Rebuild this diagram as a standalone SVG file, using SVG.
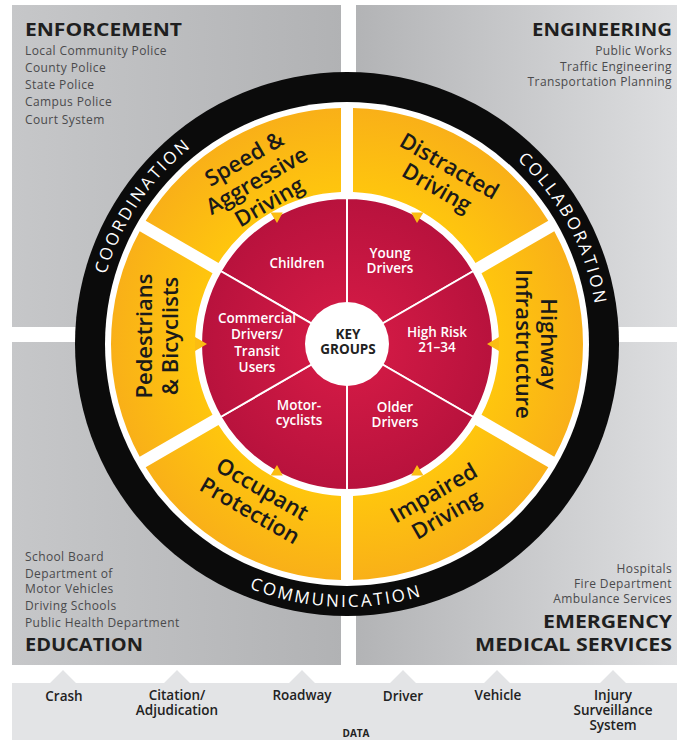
<svg xmlns="http://www.w3.org/2000/svg" width="677" height="740" viewBox="0 0 677 740">
<defs>
<linearGradient id="panelG" gradientUnits="userSpaceOnUse" x1="12" y1="0" x2="677" y2="0">
<stop offset="0" stop-color="#c6c7c9"/><stop offset="0.5" stop-color="#b1b2b4"/><stop offset="1" stop-color="#dddee0"/>
</linearGradient>
<radialGradient id="yelG" gradientUnits="userSpaceOnUse" cx="347" cy="344" r="236">
<stop offset="0.62" stop-color="#ffc70d"/><stop offset="1" stop-color="#f9b018"/>
</radialGradient>
<radialGradient id="redG" gradientUnits="userSpaceOnUse" cx="347" cy="344" r="146">
<stop offset="0.3" stop-color="#cf1944"/><stop offset="1" stop-color="#b8123d"/>
</radialGradient>
<path id="arcCoord" d="M121.4 454 A251 251 0 0 1 364.5 93.6"/>
<path id="arcColl" d="M355.8 93.2 A251 251 0 0 1 559.9 477"/>
<path id="arcComm" d="M113.7 465.4 A263 263 0 0 0 568.8 485.3"/>
</defs>
<style>
.hd{font-family:"Open Sans","Liberation Sans",sans-serif;font-weight:700;font-size:18px;fill:#1f1f20}
.sm{font-family:"Open Sans","Liberation Sans",sans-serif;font-size:12px;fill:#4a4a4c;letter-spacing:0.4px}
.rt{font-family:"Open Sans","Liberation Sans",sans-serif;font-size:17px;fill:#ffffff;letter-spacing:2.4px}
.yl{font-family:"Open Sans","Liberation Sans",sans-serif;font-weight:600;font-size:22px;fill:#1a1a1a;text-anchor:middle}
.rl{font-family:"Open Sans","Liberation Sans",sans-serif;font-weight:600;font-size:13.5px;fill:#ffffff;text-anchor:middle}
.kg{font-family:"Open Sans","Liberation Sans",sans-serif;font-weight:700;font-size:13.5px;fill:#222222;text-anchor:middle}
.dl{font-family:"Open Sans","Liberation Sans",sans-serif;font-weight:600;font-size:13.5px;fill:#222222;text-anchor:middle}
.seg{fill:url(#yelG)}
.wed{fill:url(#redG);stroke:#ffffff;stroke-width:2}
.tab{fill:#fbbd12}
.tri{fill:#e3e4e6}
</style>
<rect width="677" height="740" fill="#ffffff"/>

<g id="enforcement">
<rect x="12" y="5" width="329" height="322" fill="url(#panelG)"/>
<text class="hd" x="25" y="36" textLength="157" lengthAdjust="spacingAndGlyphs">ENFORCEMENT</text>
<text class="sm" x="25" y="55">Local Community Police<tspan x="25" dy="17">County Police</tspan><tspan x="25" dy="17">State Police</tspan><tspan x="25" dy="17">Campus Police</tspan><tspan x="25" dy="18">Court System</tspan></text>
</g>
<g id="engineering">
<rect x="356" y="5" width="321" height="322" fill="url(#panelG)"/>
<text class="hd" x="532" y="36" textLength="140" lengthAdjust="spacingAndGlyphs">ENGINEERING</text>
<text class="sm" x="672" y="55" text-anchor="end">Public Works<tspan x="672" dy="16">Traffic Engineering</tspan><tspan x="672" dy="15">Transportation Planning</tspan></text>
</g>
<g id="education">
<rect x="12" y="342" width="329" height="323" fill="url(#panelG)"/>
<text class="sm" x="25" y="561">School Board<tspan x="25" dy="17">Department of</tspan><tspan x="25" dy="15">Motor Vehicles</tspan><tspan x="25" dy="17">Driving Schools</tspan><tspan x="25" dy="17">Public Health Department</tspan></text>
<text class="hd" x="25" y="651" textLength="118" lengthAdjust="spacingAndGlyphs">EDUCATION</text>
</g>
<g id="ems">
<rect x="356" y="342" width="321" height="323" fill="url(#panelG)"/>
<text class="sm" x="672" y="573" text-anchor="end">Hospitals<tspan x="672" dy="15">Fire Department</tspan><tspan x="672" dy="15">Ambulance Services</tspan></text>
<text class="hd" x="543" y="628" textLength="129" lengthAdjust="spacingAndGlyphs">EMERGENCY</text>
<text class="hd" x="475" y="651" textLength="197" lengthAdjust="spacingAndGlyphs">MEDICAL SERVICES</text>
</g>

<g id="data">
<rect x="12" y="683" width="665" height="57" fill="#e3e4e6"/>
<path class="tri" d="M50 683 L63 670 L76 683 Z M164 683 L177 670 L190 683 Z M289 683 L302 670 L315 683 Z M390 683 L403 670 L416 683 Z M484 683 L497 670 L510 683 Z M600 683 L613 670 L626 683 Z"/>
<text class="dl" x="64" y="701">Crash</text>
<text class="dl" x="177" y="700">Citation/<tspan x="177" dy="15">Adjudication</tspan></text>
<text class="dl" x="302" y="700">Roadway</text>
<text class="dl" x="403" y="701">Driver</text>
<text class="dl" x="498" y="700">Vehicle</text>
<text class="dl" x="613" y="700">Injury<tspan x="613" dy="15">Surveillance</tspan><tspan x="613" dy="15">System</tspan></text>
<text class="dl" x="356" y="737" style="font-size:10px;font-weight:700">DATA</text>
</g>

<g id="ring">
<circle cx="347" cy="344" r="272" fill="#0b0b0b"/>
<circle cx="347" cy="344" r="242" fill="#ffffff"/>
<text class="rt"><textPath href="#arcCoord" startOffset="50%" text-anchor="middle">COORDINATION</textPath></text>
<text class="rt"><textPath href="#arcColl" startOffset="50%" text-anchor="middle">COLLABORATION</textPath></text>
<text class="rt"><textPath href="#arcComm" startOffset="50%" text-anchor="middle">COMMUNICATION</textPath></text>
</g>

<g id="seg-speed">
<path class="seg" d="M145.7 220.8 A236 236 0 0 1 341 108.1 L341 192.1 A152 152 0 0 0 218.5 262.9 Z"/>
<g transform="translate(257 181) rotate(-30)"><text class="yl" y="-18">Speed &amp;<tspan x="0" dy="25">Aggressive</tspan><tspan x="0" dy="25">Driving</tspan></text></g>
</g>
<g id="seg-distracted">
<path class="seg" d="M353 108.1 A236 236 0 0 1 548.3 220.8 L475.5 262.9 A152 152 0 0 0 353 192.1 Z"/>
<g transform="translate(443 177) rotate(30)"><text class="yl" y="-5">Distracted<tspan x="0" dy="25">Driving</tspan></text></g>
</g>
<g id="seg-highway">
<path class="seg" d="M554.3 231.2 A236 236 0 0 1 554.3 456.8 L481.5 414.8 A152 152 0 0 0 481.5 273.2 Z"/>
<g transform="translate(536 344) rotate(90)"><text class="yl" y="-5">Highway<tspan x="0" dy="25">Infrastructure</tspan></text></g>
</g>
<g id="seg-impaired">
<path class="seg" d="M548.3 467.2 A236 236 0 0 1 353 579.9 L353 495.9 A152 152 0 0 0 475.5 425.1 Z"/>
<g transform="translate(440 504) rotate(-30)"><text class="yl" y="-5">Impaired<tspan x="0" dy="25">Driving</tspan></text></g>
</g>
<g id="seg-occupant">
<path class="seg" d="M341 579.9 A236 236 0 0 1 145.7 467.2 L218.5 425.1 A152 152 0 0 0 341 495.9 Z"/>
<g transform="translate(256 500) rotate(30)"><text class="yl" y="-5">Occupant<tspan x="0" dy="25">Protection</tspan></text></g>
</g>
<g id="seg-pedestrians">
<path class="seg" d="M139.7 456.8 A236 236 0 0 1 139.7 231.2 L212.5 273.2 A152 152 0 0 0 212.5 414.8 Z"/>
<g transform="translate(158 336) rotate(-90)"><text class="yl" y="-6">Pedestrians<tspan x="0" dy="26">&amp; Bicyclists</tspan></text></g>
</g>

<g id="wedge-children">
<path class="wed" d="M347 344 L220.6 271 A146 146 0 0 1 347 198 Z"/>
<text class="rl" x="297" y="268">Children</text>
</g>
<g id="wedge-young">
<path class="wed" d="M347 344 L347 198 A146 146 0 0 1 473.4 271 Z"/>
<text class="rl" x="390" y="258">Young<tspan x="390" dy="15">Drivers</tspan></text>
</g>
<g id="wedge-highrisk">
<path class="wed" d="M347 344 L473.4 271 A146 146 0 0 1 473.4 417 Z"/>
<text class="rl" x="437" y="337">High Risk<tspan x="437" dy="15">21–34</tspan></text>
</g>
<g id="wedge-older">
<path class="wed" d="M347 344 L473.4 417 A146 146 0 0 1 347 490 Z"/>
<text class="rl" x="395" y="412">Older<tspan x="395" dy="15">Drivers</tspan></text>
</g>
<g id="wedge-moto">
<path class="wed" d="M347 344 L347 490 A146 146 0 0 1 220.6 417 Z"/>
<text class="rl" x="299" y="410">Motor-<tspan x="299" dy="15">cyclists</tspan></text>
</g>
<g id="wedge-commercial">
<path class="wed" d="M347 344 L220.6 417 A146 146 0 0 1 220.6 271 Z"/>
<text class="rl" x="257" y="323">Commercial<tspan x="257" dy="16">Drivers/</tspan><tspan x="257" dy="17">Transit</tspan><tspan x="257" dy="16">Users</tspan></text>
</g>

<g id="connectors">
<path class="tab" d="M270.5 212.4 L282.8 212.4 L277 223 Z"/>
<path class="tab" d="M411.2 212.4 L423.5 212.4 L417 223 Z"/>
<path class="tab" d="M499 337 L499 351 L487 344 Z"/>
<path class="tab" d="M411.2 475.6 L423.5 475.6 L417 465 Z"/>
<path class="tab" d="M270.5 475.6 L282.8 475.6 L277 465 Z"/>
<path class="tab" d="M195 337 L195 351 L207 344 Z"/>
</g>

<g id="key-groups">
<circle cx="347" cy="344" r="42" fill="#ffffff"/>
<text class="kg" x="348" y="339">KEY<tspan x="348" dy="15">GROUPS</tspan></text>
</g>
</svg>
